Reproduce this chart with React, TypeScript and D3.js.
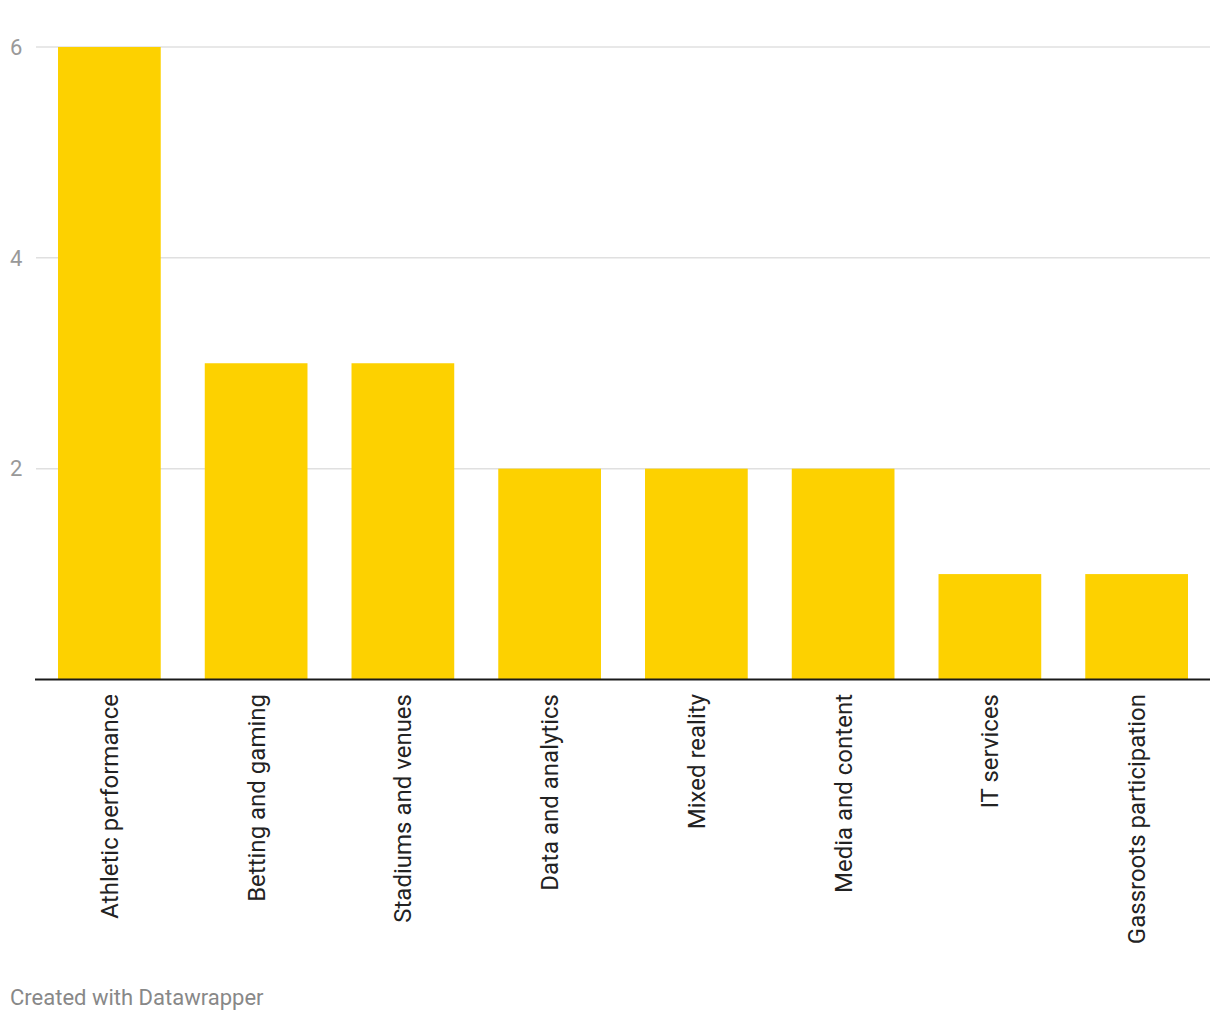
import React from "react";
import * as d3 from "d3";

const categories = [
  "Athletic performance",
  "Betting and gaming",
  "Stadiums and venues",
  "Data and analytics",
  "Mixed reality",
  "Media and content",
  "IT services",
  "Gassroots participation",
];
const values = [6, 3, 3, 2, 2, 2, 1, 1];
const yTicks = [2, 4, 6];

const W = 1220;
const H = 1020;
const left = 35;
const right = 1210;
const top = 47;
const bottom = 679.5;

export default function App() {
  const x = d3
    .scaleBand<string>()
    .domain(categories)
    .range([left + 1, right])
    .paddingInner(0.3)
    .paddingOuter(0.15);
  const y = d3.scaleLinear().domain([0, 6]).range([bottom, top]);
  const font = "Roboto, 'Noto Sans', sans-serif";
  return (
    <svg
      width={W}
      height={H}
      style={{ position: "absolute", left: 0, top: 0, background: "#fff" }}
      fontFamily={font}
    >
      {yTicks.map((t) => (
        <g key={t}>
          <line x1={left + 1} x2={right} y1={y(t)} y2={y(t)} stroke="#e0e0e0" strokeWidth={1.5} />
          <text x={10} y={y(t)} dy="0.35em" fontSize={22} fill="#999">
            {t}
          </text>
        </g>
      ))}
      {categories.map((c, i) => (
        <rect
          key={c}
          x={x(c)}
          y={y(values[i])}
          width={x.bandwidth()}
          height={y(0) - y(values[i])}
          fill="#fdd100"
        />
      ))}
      <line x1={left} x2={right} y1={y(0)} y2={y(0)} stroke="#1a1a1a" strokeWidth={2} />
      {categories.map((c) => {
        const cx = (x(c) as number) + x.bandwidth() / 2;
        const ty = 694;
        return (
          <text
            key={c}
            transform={`translate(${cx},${ty}) rotate(-90)`}
            textAnchor="end"
            dy="0.35em"
            fontSize={24}
            fill="#222"
          >
            {c}
          </text>
        );
      })}
      <text x={10} y={1005} fontSize={22} fill="#888">
        Created with Datawrapper
      </text>
    </svg>
  );
}
